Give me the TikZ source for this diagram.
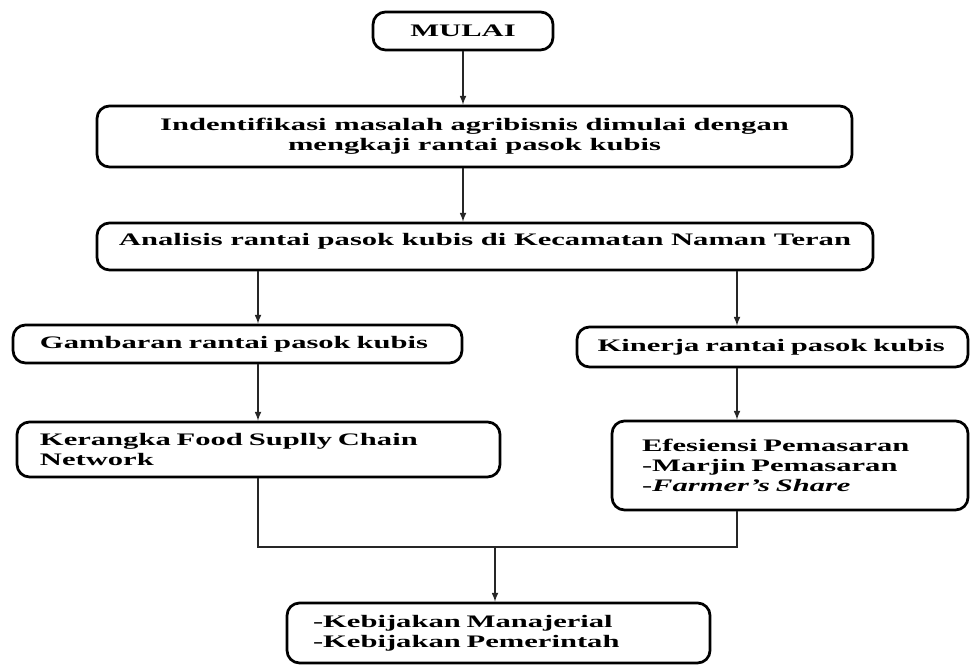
\documentclass[tikz,border=0pt]{standalone}
\usepackage{fontspec}
\setmainfont{Liberation Serif}[FakeStretch=1.74]

\begin{document}
\begin{tikzpicture}
		\tikzstyle {kotak} = [draw, line width=0.055cm, rounded corners=0.25cm, font=\bfseries\fontsize{10}{11.5}\selectfont, inner ysep=0pt]
		\tikzstyle {panah} = [-latex, line width=0.025cm, black!85]
		\tikzstyle {garis} = [line width=0.025cm, black!85]

		\useasboundingbox (0,0) rectangle (19.42,-13.32);

		\coordinate (kirikol) at (5.16,0);
		\coordinate (kanankol) at (14.74,0);
		\coordinate (gabung) at (9.90,-10.94);

		\node[kotak, minimum width=3.6cm, minimum height=0.76cm] (mulai) at (9.26,-0.62) {MULAI};
		\node[kotak, minimum width=15.1cm, minimum height=1.22cm, align=center] (identifikasi) at (9.49,-2.73) {Indentifikasi masalah agribisnis dimulai dengan\\mengkaji rantai pasok kubis};
		\node[kotak, minimum width=15.52cm, minimum height=0.94cm, text depth=0.27cm] (analisis) at (9.70,-4.93) {Analisis rantai pasok kubis di Kecamatan Naman Teran};

		\node[kotak, text width=7.9cm, inner xsep=0.54cm, minimum height=0.76cm, align=left] (gambaran) at (4.75,-6.88) {Gambaran rantai pasok kubis};
		\node[kotak, text width=7.0cm, inner xsep=0.41cm, minimum height=0.8cm, align=left] (kinerja) at (15.45,-6.94) {Kinerja rantai pasok kubis};

		\node[kotak, text width=8.74cm, inner xsep=0.46cm, minimum height=1.1cm, align=left] (kerangka) at (5.17,-8.99) {Kerangka Food Suplly Chain\\Network};
		\node[kotak, text width=5.92cm, inner xsep=0.6cm, minimum height=1.78cm, align=left] (efisiensi) at (15.80,-9.31) {Efesiensi Pemasaran\\-Marjin Pemasaran\\-\textit{Farmer’s Share}};

		\node[kotak, text width=7.42cm, inner xsep=0.52cm, minimum height=1.2cm, align=left] (kebijakan) at (9.97,-12.66) {-Kebijakan Manajerial\\-Kebijakan Pemerintah};

		\draw[panah] (mulai.south) -- (identifikasi.north -| mulai.south);
		\draw[panah] (identifikasi.south -| mulai.south) -- (analisis.north -| mulai.south);
		\draw[panah] (analisis.south -| kirikol) -- (gambaran.north -| kirikol);
		\draw[panah] (analisis.south -| kanankol) -- (kinerja.north -| kanankol);
		\draw[panah] (gambaran.south -| kirikol) -- (kerangka.north -| kirikol);
		\draw[panah] (kinerja.south -| kanankol) -- (efisiensi.north -| kanankol);

		\draw[garis] (kerangka.south -| kirikol) |- (gabung) -| (efisiensi.south -| kanankol);
		\draw[panah] (gabung) -- (kebijakan.north -| gabung);
	\end{tikzpicture}
\end{document}
